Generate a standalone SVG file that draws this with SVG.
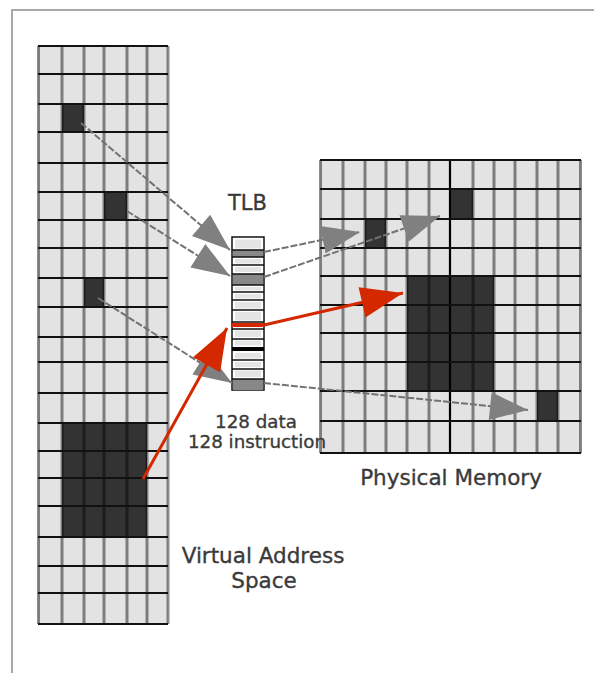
<svg xmlns="http://www.w3.org/2000/svg" width="594" height="673" viewBox="0 0 594 673">
<style>
.cell{fill:#e3e3e3}
.dark{fill:#333}
.vl{stroke:#000;stroke-opacity:.45;stroke-width:3;fill:none}
.hl{stroke:#111;stroke-width:2;fill:none}
.dash{stroke:#727272;stroke-width:2;stroke-dasharray:7 2;fill:none}
.red{stroke:#d42800;stroke-width:3;fill:none}
.lbl{font-family:"DejaVu Sans",Verdana,sans-serif;fill:#3a3a3a;stroke:#3a3a3a;stroke-width:0.35;text-anchor:middle}
.tent{fill:#e4e4e4}
.tdark{fill:#888}
.tsep{stroke:#111;stroke-width:1.5}
</style>
<defs>
<marker id="ag" markerUnits="userSpaceOnUse" markerWidth="40" markerHeight="30" refX="38" refY="14" orient="auto" overflow="visible">
<path d="M0,0 L38,14 L0,28 z" fill="#808080"/>
</marker>
<marker id="ar" markerUnits="userSpaceOnUse" markerWidth="44" markerHeight="32" refX="42" refY="15.5" orient="auto" overflow="visible">
<path d="M0,0 L42,15.5 L0,31 z" fill="#d42800"/>
</marker>
</defs>
<rect width="594" height="673" fill="#fff"/>
<path d="M12,673 V10 H594" stroke="#a8a8a8" stroke-width="2" fill="none"/>

<g id="virtual-address-space">
<rect class="cell" x="38" y="46" width="130" height="578"/>
<rect class="dark" x="62" y="104" width="22" height="28"/>
<rect class="dark" x="104" y="192" width="23" height="28"/>
<rect class="dark" x="84" y="278" width="20" height="29"/>
<rect class="dark" x="62" y="423" width="85" height="114"/>
<path class="vl" d="M38.5,46V624M62,46V624M84,46V624M104,46V624M127,46V624M147,46V624M168,46V624"/>
<path class="hl" d="M38,46H168M38,74H168M38,104H168M38,132H168M38,163H168M38,192H168M38,220H168M38,248H168M38,278H168M38,307H168M38,337H168M38,362H168M38,393H168M38,423H168M38,451H168M38,478H168M38,506H168M38,537H168M38,566H168M38,593H168M38,624H168"/>
<text class="lbl" x="263" y="563" font-size="21.5">Virtual Address</text>
<text class="lbl" x="264" y="588" font-size="21.5">Space</text>
</g>

<g id="physical-memory">
<rect class="cell" x="320" y="160" width="261" height="293"/>
<rect class="dark" x="450" y="189" width="23" height="30"/>
<rect class="dark" x="365" y="219" width="21" height="29"/>
<rect class="dark" x="407" y="276" width="87" height="115"/>
<rect class="dark" x="537" y="391" width="21" height="30"/>
<path class="vl" d="M320.5,160V453M343,160V453M365,160V453M386,160V453M407,160V453M429,160V453M473,160V453M494,160V453M515,160V453M537,160V453M558,160V453M580.5,160V453"/>
<path d="M450,160V453" stroke="#000" stroke-width="2.2"/>
<path class="hl" d="M320,160H581M320,189H581M320,219H581M320,248H581M320,276H581M320,305H581M320,333H581M320,362H581M320,391H581M320,421H581M320,453H581"/>
<text class="lbl" x="451" y="485" font-size="21.5">Physical Memory</text>
</g>

<g id="tlb">
<rect x="232" y="237" width="32" height="153" fill="#fff" stroke="#111" stroke-width="1.5"/>
<rect class="tent" x="235" y="239.5" width="26" height="9"/>
<rect class="tdark" x="233" y="250" width="30" height="7"/>
<rect class="tent" x="235" y="259" width="26" height="4.5"/>
<rect class="tent" x="235" y="267" width="26" height="5"/>
<rect class="tdark" x="233" y="274" width="30" height="11"/>
<rect class="tent" x="235" y="287" width="26" height="3.5"/>
<rect class="tent" x="235" y="294" width="26" height="4.5"/>
<rect class="tent" x="235" y="302" width="26" height="6.5"/>
<rect class="tent" x="235" y="312" width="26" height="8.5"/>
<rect class="tent" x="235" y="330.5" width="26" height="6.5"/>
<rect class="tent" x="235" y="340.5" width="26" height="5"/>
<rect class="tent" x="235" y="353" width="26" height="5.5"/>
<rect class="tent" x="235" y="362" width="26" height="5"/>
<rect class="tent" x="235" y="370.5" width="26" height="6.5"/>
<rect class="tdark" x="233" y="379" width="30" height="11"/>
<path class="tsep" d="M232,250H264M232,257H264M232,265H264M232,274H264M232,285H264M232,292H264M232,300H264M232,310H264M232,322H264M232,329H264M232,339H264M232,360H264M232,369H264M232,379H264"/>
<rect x="232" y="347" width="32" height="4" fill="#000"/>
<rect x="232" y="323" width="32" height="4" fill="#d42800"/>
<text class="lbl" x="247.5" y="210" font-size="21">TLB</text>
<text class="lbl" x="256" y="428" font-size="18.3">128 data</text>
<text class="lbl" x="257" y="448" font-size="18.3">128 instruction</text>
</g>

<g id="connectors">
<path class="dash" d="M81,123 L230,250" marker-end="url(#ag)"/>
<path class="dash" d="M127,211 L230,276" marker-end="url(#ag)"/>
<path class="dash" d="M98,298 L232,383" marker-end="url(#ag)"/>
<path class="dash" d="M264,252 L360,232" marker-end="url(#ag)"/>
<path class="dash" d="M264,277 L440,216" marker-end="url(#ag)"/>
<path class="dash" d="M264,383 L528,410" marker-end="url(#ag)"/>
<path class="red" d="M143,479 L227,328" marker-end="url(#ar)"/>
<path class="red" d="M264,325 L403,293" marker-end="url(#ar)"/>
</g>
</svg>
